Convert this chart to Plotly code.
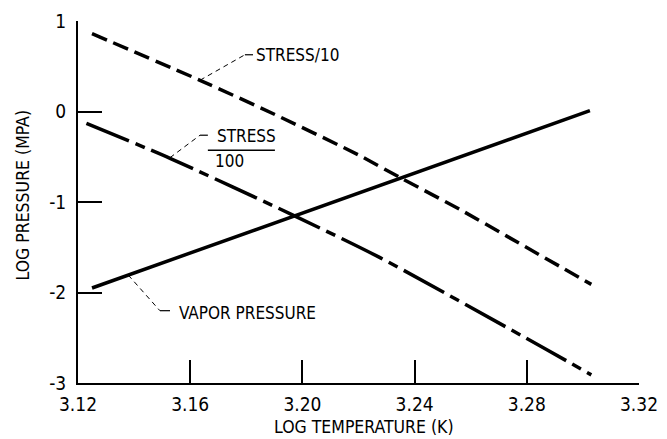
import plotly.graph_objects as go

# log temperature (K) / log pressure (MPa)
stress10_x = [3.125, 3.1635, 3.19, 3.22, 3.2354, 3.256, 3.273, 3.303]
stress10_y = [0.86, 0.345, -0.03, -0.48, -0.74, -1.08, -1.38, -1.91]

stress100_x = [3.123, 3.153, 3.197, 3.228, 3.287, 3.303]
stress100_y = [-0.13, -0.52, -1.15, -1.62, -2.63, -2.91]

vapor_x = [3.125, 3.197, 3.235, 3.3025]
vapor_y = [-1.95, -1.155, -0.745, 0.01]

x_ticks = [3.12, 3.16, 3.20, 3.24, 3.28, 3.32]
x_tick_text = ['3.12', '3.16', '3.20', '3.24', '3.28', '3.32']
y_ticks = [1, 0, -1, -2, -3]
y_tick_text = ['1', '0', '-1', '-2', '-3']

FONT = 'DejaVu Sans Condensed, sans-serif'

fig = go.Figure()

fig.add_trace(go.Scatter(
    x=stress10_x, y=stress10_y, mode='lines', name='STRESS/10',
    line=dict(color='black', width=3.5, dash='16px,7px', shape='spline', smoothing=0.6)
))
fig.add_trace(go.Scatter(
    x=stress100_x, y=stress100_y, mode='lines', name='STRESS/100',
    line=dict(color='black', width=3.5, dash='46px,7px,10px,7px', shape='spline', smoothing=0.6)
))
fig.add_trace(go.Scatter(
    x=vapor_x, y=vapor_y, mode='lines', name='VAPOR PRESSURE',
    line=dict(color='black', width=3.5)
))

# leader lines to the curve labels
leader = dict(color='black', width=1, dash='5px,4px')
solid = dict(color='black', width=1.2)
fig.add_shape(type='line', x0=3.1635, y0=0.3455, x1=3.1795, y1=0.627, line=leader)
fig.add_shape(type='line', x0=3.1795, y0=0.627, x1=3.1824, y1=0.627, line=solid)
fig.add_shape(type='line', x0=3.1528, y0=-0.51, x1=3.1635, y1=-0.262, line=leader)
fig.add_shape(type='line', x0=3.1635, y0=-0.262, x1=3.1663, y1=-0.262, line=solid)
fig.add_shape(type='line', x0=3.1663, y0=-0.427, x1=3.1902, y1=-0.427, line=dict(color='black', width=1.5))
fig.add_shape(type='line', x0=3.1379, y0=-1.807, x1=3.1492, y1=-2.201, line=leader)
fig.add_shape(type='line', x0=3.1492, y0=-2.201, x1=3.1528, y1=-2.201, line=solid)

lbl = dict(showarrow=False, xanchor='left', yanchor='middle',
           font=dict(family=FONT, size=17, color='black'))
fig.add_annotation(x=3.1826, y=0.62, text='STRESS/10', **lbl)
fig.add_annotation(x=3.1688, y=-0.275, text='STRESS', **lbl)
fig.add_annotation(x=3.1681, y=-0.545, text='100', **lbl)
fig.add_annotation(x=3.1553, y=-2.225, text='VAPOR PRESSURE', **lbl)

# axis titles placed by hand so the plot area stays fixed
ttl = dict(showarrow=False, xref='paper', yref='paper',
           font=dict(family=FONT, size=17.5, color='black'))
fig.add_annotation(x=0.51, y=-0.122, text='LOG TEMPERATURE (K)',
                   xanchor='center', yanchor='middle', **ttl)
fig.add_annotation(x=-0.0985, y=0.52, text='LOG PRESSURE (MPA)', textangle=-90,
                   xanchor='center', yanchor='middle', **ttl)

# page body has an 8px margin, so the figure is sized to fit the window
fig.update_layout(
    width=659, height=431,
    margin=dict(l=70, r=28, t=13, b=56),
    plot_bgcolor='white', paper_bgcolor='white',
    showlegend=False,
    font=dict(family=FONT, size=19, color='black'),
)
fig.update_xaxes(
    range=[3.12, 3.32], tickvals=x_ticks, ticktext=x_tick_text,
    showgrid=False, zeroline=False, showline=True, linecolor='black', linewidth=2,
    ticks='inside', ticklen=23, tickwidth=2, tickcolor='black',
    ticklabelstandoff=3, automargin=False,
)
fig.update_yaxes(
    range=[-3, 1], tickvals=y_ticks, ticktext=y_tick_text,
    showgrid=False, zeroline=False, showline=True, linecolor='black', linewidth=2,
    ticks='inside', ticklen=24, tickwidth=2, tickcolor='black',
    ticklabelstandoff=6, automargin=False,
)

fig.write_html('out.html')
